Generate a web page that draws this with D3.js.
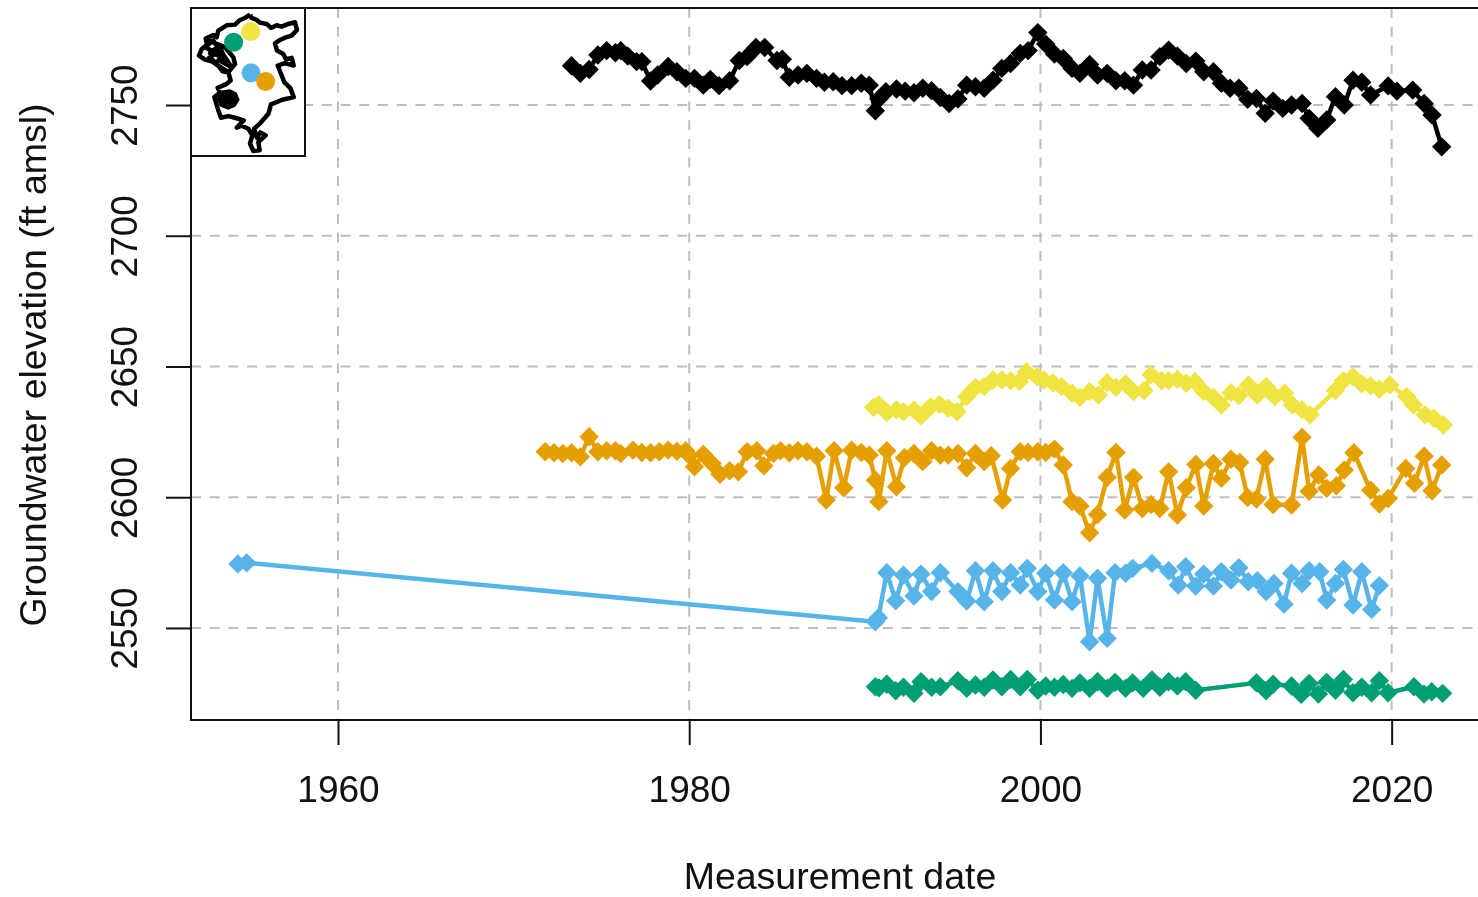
<!DOCTYPE html>
<html>
<head>
<meta charset="utf-8">
<script src="https://cdn.jsdelivr.net/npm/d3@7"></script>
<style>
  html, body { margin: 0; padding: 0; background: #fff; overflow: hidden; }
  svg { display: block; filter: blur(0.6px); }
  text { font-family: "Liberation Sans", Arial, sans-serif; fill: #111; }
</style>
</head>
<body>
<svg id="chart" width="1478" height="897"></svg>
<script>
// Values: [decimal year, elevation in ft amsl]
const blackWell = [[1973.3,2765.0],[1973.8,2762.1],[1974.3,2763.6],[1974.8,2769.1],[1975.3,2770.8],[1975.8,2770.0],[1976.1,2770.8],[1976.5,2768.7],[1977.0,2766.6],[1977.3,2766.6],[1977.8,2759.2],[1978.2,2761.5],[1978.8,2764.7],[1979.3,2762.7],[1979.8,2760.2],[1980.3,2760.2],[1980.8,2757.6],[1981.2,2759.8],[1981.7,2757.4],[1982.3,2759.3],[1982.85,2767.0],[1983.3,2768.5],[1983.8,2772.0],[1984.3,2772.0],[1985.0,2767.0],[1985.3,2767.5],[1985.7,2760.6],[1986.2,2761.5],[1986.7,2762.1],[1987.25,2760.2],[1987.7,2758.7],[1988.2,2758.9],[1988.7,2757.4],[1989.25,2757.4],[1989.8,2758.3],[1990.25,2757.6],[1990.6,2747.8],[1990.8,2752.3],[1991.2,2755.1],[1991.8,2756.1],[1992.3,2755.3],[1992.8,2754.7],[1993.3,2756.4],[1993.8,2755.5],[1994.3,2752.9],[1994.8,2750.6],[1995.3,2752.3],[1995.8,2757.6],[1996.3,2757.0],[1996.8,2756.4],[1997.3,2759.5],[1997.8,2764.0],[1998.3,2765.9],[1998.85,2769.75],[1999.3,2770.8],[1999.85,2777.7],[2000.3,2773.3],[2000.8,2769.5],[2001.3,2767.8],[2001.8,2764.0],[2002.25,2762.1],[2002.8,2765.5],[2003.25,2761.5],[2003.8,2762.1],[2004.3,2759.3],[2004.8,2759.3],[2005.3,2757.6],[2005.8,2763.4],[2006.3,2763.4],[2006.8,2768.5],[2007.3,2771.0],[2007.8,2768.7],[2008.3,2765.9],[2008.85,2766.8],[2009.3,2762.7],[2009.85,2762.7],[2010.3,2758.3],[2010.8,2756.4],[2011.3,2756.4],[2011.8,2752.2],[2012.3,2752.5],[2012.8,2746.8],[2013.25,2751.5],[2013.8,2748.7],[2014.3,2750.0],[2014.9,2750.6],[2015.3,2744.9],[2015.8,2741.1],[2016.3,2744.3],[2016.8,2753.2],[2017.3,2750.0],[2017.8,2759.5],[2018.3,2758.7],[2018.8,2753.8],[2019.8,2757.3],[2020.3,2755.3],[2021.2,2755.7],[2021.85,2750.6],[2022.3,2746.2],[2022.85,2734.0]];

const yellowWell = [[1990.5,2634.4],[1990.8,2635.3],[1991.25,2632.4],[1991.8,2633.4],[1992.2,2632.7],[1992.8,2633.4],[1993.2,2631.1],[1993.75,2634.65],[1994.25,2635.5],[1994.75,2634.0],[1995.25,2632.7],[1995.8,2638.5],[1996.3,2642.0],[1996.8,2642.3],[1997.3,2644.85],[1997.8,2644.85],[1998.3,2644.6],[1998.8,2644.2],[1999.2,2648.0],[1999.8,2646.1],[2000.2,2644.85],[2000.7,2643.8],[2001.2,2642.3],[2001.8,2639.75],[2002.25,2638.2],[2002.8,2640.4],[2003.3,2639.1],[2003.8,2643.8],[2004.3,2642.0],[2004.85,2643.3],[2005.3,2640.4],[2005.9,2640.8],[2006.3,2646.8],[2006.9,2644.6],[2007.3,2644.6],[2007.8,2645.1],[2008.3,2643.6],[2008.8,2644.2],[2009.3,2640.4],[2009.85,2638.2],[2010.3,2635.3],[2010.85,2640.0],[2011.3,2638.9],[2011.85,2642.9],[2012.35,2639.1],[2012.85,2642.3],[2013.35,2638.5],[2013.9,2639.75],[2014.35,2635.3],[2014.9,2633.4],[2015.35,2631.5],[2016.8,2640.8],[2017.25,2644.6],[2017.8,2646.1],[2018.3,2643.3],[2018.8,2642.6],[2019.3,2641.3],[2019.9,2642.9],[2020.85,2638.5],[2021.25,2635.3],[2021.9,2631.5],[2022.4,2630.2],[2022.95,2627.6]];

const orangeWell = [[1971.8,2617.4],[1972.3,2617.0],[1972.8,2616.75],[1973.3,2617.0],[1973.8,2615.5],[1974.3,2623.1],[1974.8,2617.4],[1975.3,2617.8],[1975.8,2617.8],[1976.1,2616.75],[1976.8,2618.0],[1977.3,2617.1],[1977.8,2617.0],[1978.3,2617.4],[1978.8,2618.0],[1979.3,2617.6],[1979.8,2617.8],[1980.0,2616.0],[1980.3,2611.65],[1980.8,2616.4],[1981.3,2612.9],[1981.75,2608.8],[1982.3,2610.1],[1982.8,2609.7],[1983.3,2617.4],[1983.85,2617.8],[1984.25,2612.0],[1984.8,2616.75],[1985.2,2617.8],[1985.7,2617.0],[1986.2,2617.8],[1986.7,2617.4],[1987.25,2615.7],[1987.8,2598.9],[1988.25,2617.8],[1988.8,2603.6],[1989.25,2618.0],[1989.8,2617.1],[1990.25,2616.1],[1990.6,2606.5],[1990.8,2598.3],[1991.25,2617.8],[1991.8,2604.0],[1992.25,2615.1],[1992.8,2616.75],[1993.3,2613.6],[1993.8,2617.8],[1994.3,2616.1],[1994.75,2616.1],[1995.3,2616.75],[1995.8,2611.3],[1996.3,2616.75],[1996.8,2613.6],[1997.2,2615.9],[1997.85,2598.9],[1998.3,2611.0],[1998.85,2617.4],[1999.3,2617.1],[1999.85,2617.4],[2000.3,2617.1],[2000.8,2618.4],[2001.3,2612.3],[2001.8,2598.3],[2002.25,2596.6],[2002.8,2586.4],[2003.25,2593.4],[2003.8,2607.6],[2004.3,2617.1],[2004.8,2595.1],[2005.3,2607.6],[2005.8,2595.7],[2006.3,2597.2],[2006.8,2595.7],[2007.3,2609.7],[2007.8,2593.2],[2008.3,2603.6],[2008.85,2612.5],[2009.3,2596.6],[2009.85,2612.9],[2010.3,2607.2],[2010.85,2614.5],[2011.35,2613.3],[2011.8,2599.9],[2012.3,2599.3],[2012.8,2614.5],[2013.25,2597.2],[2014.3,2597.0],[2014.9,2622.9],[2015.3,2602.3],[2015.85,2608.5],[2016.3,2603.4],[2016.85,2604.4],[2017.3,2610.4],[2017.85,2617.0],[2018.8,2602.7],[2019.3,2597.4],[2019.8,2599.5],[2020.8,2611.0],[2021.3,2605.3],[2021.85,2615.7],[2022.3,2602.5],[2022.85,2612.3]];

const blueWell = [[1954.3,2574.5],[1954.8,2574.9],[1990.6,2552.4],[1990.77,2553.9],[1991.25,2571.1],[1991.76,2560.4],[1992.2,2570.2],[1992.8,2562.2],[1993.2,2570.6],[1993.8,2563.9],[1994.3,2571.1],[1995.3,2563.9],[1995.8,2560.3],[1996.3,2571.9],[1996.8,2560.0],[1997.3,2571.9],[1997.8,2563.9],[1998.3,2571.1],[1998.85,2566.4],[1999.25,2572.8],[1999.85,2563.9],[2000.3,2570.9],[2000.8,2560.7],[2001.3,2571.1],[2001.8,2560.0],[2002.25,2569.9],[2002.8,2544.7],[2003.25,2569.0],[2003.8,2546.0],[2004.25,2571.1],[2004.85,2570.9],[2005.25,2572.8],[2006.35,2574.7],[2007.3,2571.9],[2007.85,2566.4],[2008.27,2573.4],[2008.84,2566.0],[2009.3,2570.6],[2009.85,2566.0],[2010.3,2571.5],[2010.85,2568.3],[2011.3,2573.0],[2011.84,2567.7],[2012.35,2568.1],[2012.85,2563.9],[2013.3,2567.0],[2013.87,2559.1],[2014.3,2570.9],[2014.9,2567.0],[2015.3,2571.9],[2015.9,2571.5],[2016.3,2560.7],[2016.8,2567.0],[2017.25,2572.4],[2017.8,2558.8],[2018.3,2571.5],[2018.86,2557.1],[2019.3,2566.2]];

const greenWell = [[1990.6,2527.5],[1990.8,2527.1],[1991.25,2528.5],[1991.76,2526.0],[1992.2,2527.3],[1992.8,2525.0],[1993.2,2529.4],[1993.8,2527.3],[1994.3,2527.5],[1995.3,2529.8],[1995.8,2526.9],[1996.3,2528.2],[1996.8,2527.3],[1997.3,2530.1],[1997.8,2527.5],[1998.3,2530.3],[1998.85,2527.5],[1999.25,2530.3],[1999.85,2526.2],[2000.3,2527.8],[2000.8,2527.3],[2001.3,2528.4],[2001.8,2526.9],[2002.25,2529.0],[2002.8,2526.9],[2003.25,2529.4],[2003.8,2526.9],[2004.25,2529.2],[2004.85,2526.9],[2005.25,2529.0],[2005.85,2526.9],[2006.35,2530.1],[2006.8,2527.3],[2007.3,2529.4],[2007.8,2527.8],[2008.27,2529.4],[2008.84,2526.2],[2012.3,2529.0],[2012.85,2526.0],[2013.25,2528.5],[2014.3,2527.8],[2014.85,2524.6],[2015.3,2528.8],[2015.83,2524.7],[2016.3,2529.2],[2016.8,2526.2],[2017.25,2530.3],[2017.8,2525.2],[2018.3,2527.3],[2018.86,2525.2],[2019.3,2529.8],[2019.8,2525.2],[2021.27,2527.5],[2021.84,2524.7],[2022.28,2525.6],[2022.9,2525.0]];

const yearTicks = [1960, 1980, 2000, 2020];
const elevationTicks = [2550, 2600, 2650, 2700, 2750];

// Inset map, in its own map units
const basinOutline = [[195,42],[200,52],[212,56],[225,66],[245,70],[258,82],[275,74],[290,78],[310,70],[330,65],[336,88],[320,105],[298,112],[282,120],[270,128],[276,150],[295,160],[303,176],[320,172],[326,195],[300,188],[278,195],[286,215],[298,245],[316,263],[326,290],[292,298],[258,312],[250,340],[240,352],[222,372],[207,385],[216,412],[226,396],[242,405],[220,425],[224,450],[205,452],[195,430],[202,405],[190,385],[170,376],[155,382],[176,360],[150,352],[130,347],[108,352],[100,330],[88,290],[105,276],[98,262],[125,250],[137,240],[130,215],[112,212],[100,196],[80,182],[60,177],[42,165],[50,146],[66,132],[62,114],[85,103],[95,110],[100,90],[125,74],[150,72],[165,58],[180,52],[195,42]];
const basinScribble = [[65,115],[95,130],[120,140],[145,170],[150,190],[130,215],[100,195],[75,170],[95,155],[125,185],[105,140],[80,150],[60,140],[85,120],[110,160],[70,155],[120,170],[140,200],[95,175]];
const basinBlob = [[110,270],[135,266],[155,276],[164,298],[152,318],[130,328],[105,318],[95,295]];
const wellSites = [
  { x: 146, y: 125, color: "#009E73" },
  { x: 197, y: 93, color: "#F0E442" },
  { x: 198, y: 217, color: "#56B4E9" },
  { x: 242, y: 243, color: "#E69F00" }
];

const wells = [
  { values: blackWell, color: "#000000" },
  { values: yellowWell, color: "#F0E442" },
  { values: orangeWell, color: "#E69F00" },
  { values: blueWell, color: "#56B4E9" },
  { values: greenWell, color: "#009E73" }
];

const svg = d3.select("#chart");
const plot = { left: 191, right: 1490, top: 8, bottom: 720 };

const x = d3.scaleLinear().domain([1951.63, 2025.6]).range([plot.left, plot.right]);
const y = d3.scaleLinear().domain([2514.8, 2787.1]).range([plot.bottom, plot.top]);

// Grid
const gridDash = "10,8.7";
svg.append("g").selectAll("line").data(yearTicks).join("line")
  .attr("x1", d => x(d)).attr("x2", d => x(d))
  .attr("y1", plot.top).attr("y2", plot.bottom)
  .attr("stroke", "#bebebe").attr("stroke-width", 2).attr("stroke-dasharray", gridDash);
svg.append("g").selectAll("line").data(elevationTicks).join("line")
  .attr("x1", plot.left).attr("x2", plot.right)
  .attr("y1", d => y(d)).attr("y2", d => y(d))
  .attr("stroke", "#bebebe").attr("stroke-width", 2).attr("stroke-dasharray", gridDash);

// Series
const line = d3.line().x(d => x(d[0])).y(d => y(d[1]));
const diamond = d3.symbol().type(d3.symbolDiamond2).size(240);

wells.forEach(well => {
  const g = svg.append("g");
  g.append("path").attr("d", line(well.values))
    .attr("fill", "none").attr("stroke", well.color).attr("stroke-width", 4.5).attr("stroke-linejoin", "round");
  g.selectAll("path.pt").data(well.values).join("path").attr("class", "pt")
    .attr("d", diamond)
    .attr("transform", d => `translate(${x(d[0])},${y(d[1])})`)
    .attr("fill", well.color);
});

// Axes
const xAxis = d3.axisBottom(x).tickValues(yearTicks).tickFormat(d3.format("d")).tickSize(25).tickPadding(31);
const yAxis = d3.axisLeft(y).tickValues(elevationTicks).tickFormat(d3.format("d")).tickSize(25);

const xG = svg.append("g").attr("transform", `translate(0,${plot.bottom})`).call(xAxis);
xG.select(".domain").remove();
xG.selectAll("line").attr("stroke", "#111").attr("stroke-width", 2);
xG.selectAll("text").attr("font-size", 37).attr("font-family", "Liberation Sans").attr("fill", "#111");

const yG = svg.append("g").attr("transform", `translate(${plot.left},0)`).call(yAxis);
yG.select(".domain").remove();
yG.selectAll("line").attr("stroke", "#111").attr("stroke-width", 2);
yG.selectAll("text")
  .attr("font-size", 37).attr("font-family", "Liberation Sans").attr("fill", "#111")
  .attr("text-anchor", "middle").attr("dy", 0).attr("x", 0).attr("y", 0)
  .attr("transform", "translate(-54,0) rotate(-90)");

svg.append("rect").attr("x", plot.left).attr("y", plot.top)
  .attr("width", plot.right - plot.left).attr("height", plot.bottom - plot.top)
  .attr("fill", "none").attr("stroke", "#111").attr("stroke-width", 2);

svg.append("text").attr("x", 840).attr("y", 889).attr("text-anchor", "middle")
  .attr("font-size", 37.5).text("Measurement date");
svg.append("text").attr("transform", "translate(46,365) rotate(-90)").attr("text-anchor", "middle")
  .attr("font-size", 37.5).text("Groundwater elevation (ft amsl)");

// Inset map
const mapX = d3.scaleLinear().domain([18, 360]).range([191, 305]);
const mapY = d3.scaleLinear().domain([22, 467]).range([8, 156]);
const mapLine = d3.line().x(d => mapX(d[0])).y(d => mapY(d[1]));
const inset = svg.append("g");
inset.append("rect").attr("x", mapX(18)).attr("y", mapY(22))
  .attr("width", mapX(360) - mapX(18)).attr("height", mapY(467) - mapY(22))
  .attr("fill", "#fff").attr("stroke", "#111").attr("stroke-width", 2);
inset.append("path").attr("d", mapLine(basinOutline))
  .attr("fill", "none").attr("stroke", "#000").attr("stroke-width", 4.5).attr("stroke-linejoin", "round");
inset.append("path").attr("d", mapLine(basinScribble))
  .attr("fill", "none").attr("stroke", "#000").attr("stroke-width", 4.5);
inset.append("path").attr("d", mapLine(basinBlob) + "Z").attr("fill", "#000");
inset.selectAll("circle").data(wellSites).join("circle")
  .attr("cx", d => mapX(d.x)).attr("cy", d => mapY(d.y)).attr("r", 9.5)
  .attr("fill", d => d.color);
</script>
</body>
</html>
